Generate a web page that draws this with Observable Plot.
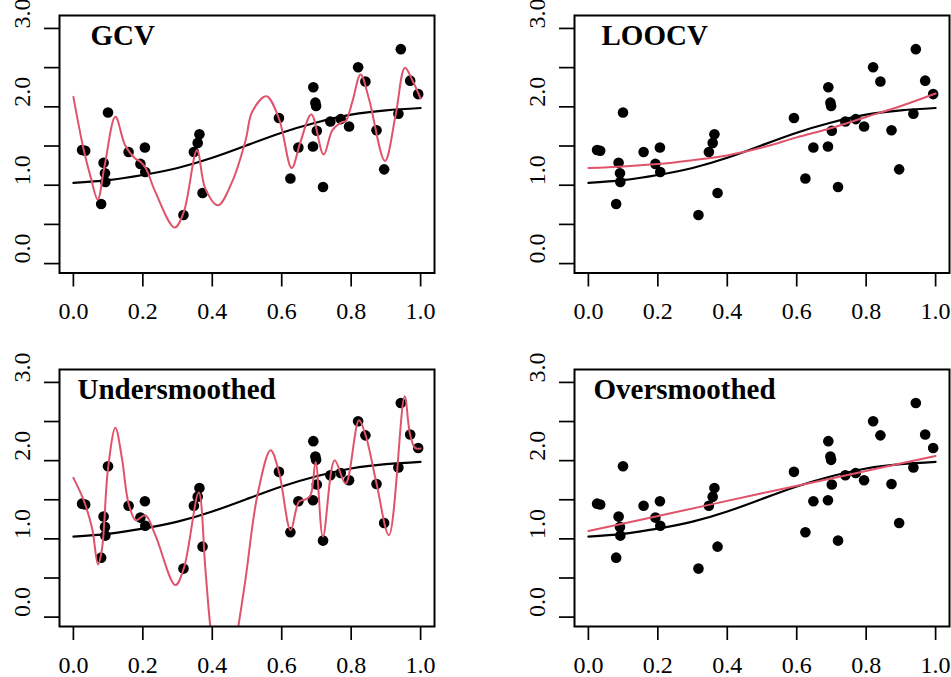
<!DOCTYPE html>
<html><head><meta charset="utf-8">
<script src="https://cdn.jsdelivr.net/npm/d3@7"></script>
<script src="https://cdn.jsdelivr.net/npm/@observablehq/plot@0.6"></script>
<style>
html,body{margin:0;padding:0;background:#fff;overflow:hidden}
#wrap{position:relative;width:951px;height:677px;background:#fff}
</style></head><body><div id="wrap"></div>
<script>
// observed data points
const ptX = [0.025,0.034,0.080,0.087,0.091,0.092,0.0997,0.159,0.193,0.206,0.207,0.317,0.347,0.358,0.363,0.372,
             0.592,0.625,0.648,0.690,0.691,0.697,0.699,0.701,0.719,0.740,0.770,0.794,0.820,0.841,0.873,0.895,0.936,0.943,0.970,0.993];
const ptY = [1.45,1.44,0.76,1.285,1.153,1.042,1.928,1.423,1.272,1.481,1.168,0.62,1.423,1.540,1.649,0.901,
             1.857,1.085,1.481,1.493,2.249,2.053,2.010,1.695,0.978,1.813,1.843,1.749,2.504,2.323,1.702,1.202,1.912,2.736,2.334,2.162];
// true curve
const trueX = [0,0.1,0.2,0.3,0.4,0.5,0.6,0.7,0.8,0.9,1.0];
const trueY = [1.03,1.065,1.13,1.22,1.35,1.51,1.67,1.80,1.90,1.955,1.985];
// GCV fit
const gcvX = [0,0.03,0.05,0.070,0.09,0.121,0.149,0.178,0.193,0.209,0.236,0.2917,0.318,0.356,0.38,0.4164,0.457,0.496,0.515,0.5557,0.592,0.6286,0.654,0.6853,0.7207,0.746,0.7745,0.784,0.8033,0.8272,0.851,0.8973,0.928,0.9548,0.9762,1.0];
const gcvY = [2.127,1.446,1.10,0.817,1.25,1.872,1.51,1.34,1.30,1.213,0.914,0.46,0.659,1.446,0.957,0.744,1.042,1.574,1.936,2.136,1.851,1.22,1.553,1.902,1.391,1.702,1.808,1.816,2.063,2.413,2.106,1.31,1.893,2.497,2.34,2.106];
// LOOCV fit
const loocvX = [0,0.1,0.2,0.3,0.4,0.5,0.6,0.7,0.8,0.9,1.0];
const loocvY = [1.22,1.24,1.27,1.32,1.38,1.48,1.61,1.73,1.87,2.01,2.17];
// Undersmoothed fit
const underX = [0,0.0297,0.054,0.071,0.0825,0.0997,0.121,0.14,0.159,0.180,0.207,0.236,0.2937,0.318,0.361,0.38,0.3945,0.43,0.475,0.496,0.53,0.568,0.592,0.6257,0.6496,0.669,0.683,0.6977,0.7187,0.7524,0.784,0.8224,0.8416,0.8733,0.9088,0.954,0.9692,0.984,1.0];
const underY = [1.78,1.494,1.132,0.673,0.877,1.898,2.422,2.026,1.452,1.238,1.302,1.047,0.409,0.622,1.592,0.622,-0.123,-1.3,-0.12,0.494,1.558,2.132,1.856,1.111,1.473,1.506,1.558,1.984,1.026,2.004,1.707,2.515,2.324,1.702,1.047,2.822,2.345,2.163,2.155];
// Oversmoothed fit
const overX = [0,0.25,0.5,0.75,1.0];
const overY = [1.10,1.34,1.583,1.82,2.06];
// axes
const xTicks = [0,0.2,0.4,0.6,0.8,1.0];
const yTicks = [0,0.5,1,1.5,2,2.5,3];
const yLabelTicks = [0,1,2,3];
const titles = ["GCV","LOOCV","Undersmoothed","Oversmoothed"];

const wrap = document.getElementById("wrap");
const serif = "'Liberation Serif','Times New Roman',serif";
const pts = ptX.map((x,i)=>({x, y: ptY[i]}));
const truth = trueX.map((x,i)=>({x, y: trueY[i]}));

function panel(title, fx, fy, cfg) {
  const fit = fx.map((x,i)=>({x, y: fy[i]}));
  const svg = Plot.plot({
    width: cfg.width, height: cfg.height,
    marginLeft: 59, marginRight: cfg.mr, marginTop: cfg.mt, marginBottom: cfg.mb,
    x: {domain: [-0.04, 1.04]},
    y: {domain: [-0.12, 3.165]},
    style: {fontFamily: serif, fontSize: "24px", background: "transparent", overflow: "visible", color: "black"},
    marks: [
      Plot.axisX({ticks: xTicks, label: null, tickSize: 14, tickPadding: 15, tickFormat: d3.format(".1f"), strokeWidth: 1.7, fontSize: 24, fontFamily: serif}),
      Plot.axisY({ticks: yTicks, label: null, tickSize: 15, tickFormat: () => "", strokeWidth: 1.7}),
      Plot.text(yLabelTicks, {y: d => d, text: d => d.toFixed(1), frameAnchor: "left", dx: -37, rotate: -90, fontSize: 24, fontFamily: serif, fill: "black"}),
      Plot.dot(pts, {x: "x", y: "y", r: 5.3, fill: "black"}),
      Plot.line(truth, {x: "x", y: "y", curve: "natural", stroke: "black", strokeWidth: 2.2}),
      Plot.line(fit, {x: "x", y: "y", curve: "catmull-rom", stroke: "#DF536B", strokeWidth: 2, clip: true}),
      Plot.frame({stroke: "black", strokeWidth: 2}),
      Plot.text([title], {text: d => d, frameAnchor: "top-left", dx: cfg.tdx, dy: 9, textAnchor: "start", lineAnchor: "top", fontWeight: "bold", fontSize: 29, fontFamily: serif, fill: "black"})
    ]
  });
  svg.style.position = "absolute";
  svg.style.left = cfg.left + "px";
  svg.style.top = cfg.top + "px";
  wrap.appendChild(svg);
}

panel(titles[0], gcvX, gcvY, {left: 0, top: 0, width: 475, height: 338, mr: 41, mt: 15, mb: 65.5, tdx: 31});
panel(titles[1], loocvX, loocvY, {left: 515, top: 0, width: 436, height: 338, mr: 2, mt: 15, mb: 65.5, tdx: 27});
panel(titles[2], underX, underY, {left: 0, top: 338, width: 475, height: 339, mr: 41, mt: 31, mb: 51, tdx: 18});
panel(titles[3], overX, overY, {left: 515, top: 338, width: 436, height: 339, mr: 2, mt: 31, mb: 51, tdx: 19});
</script></body></html>
